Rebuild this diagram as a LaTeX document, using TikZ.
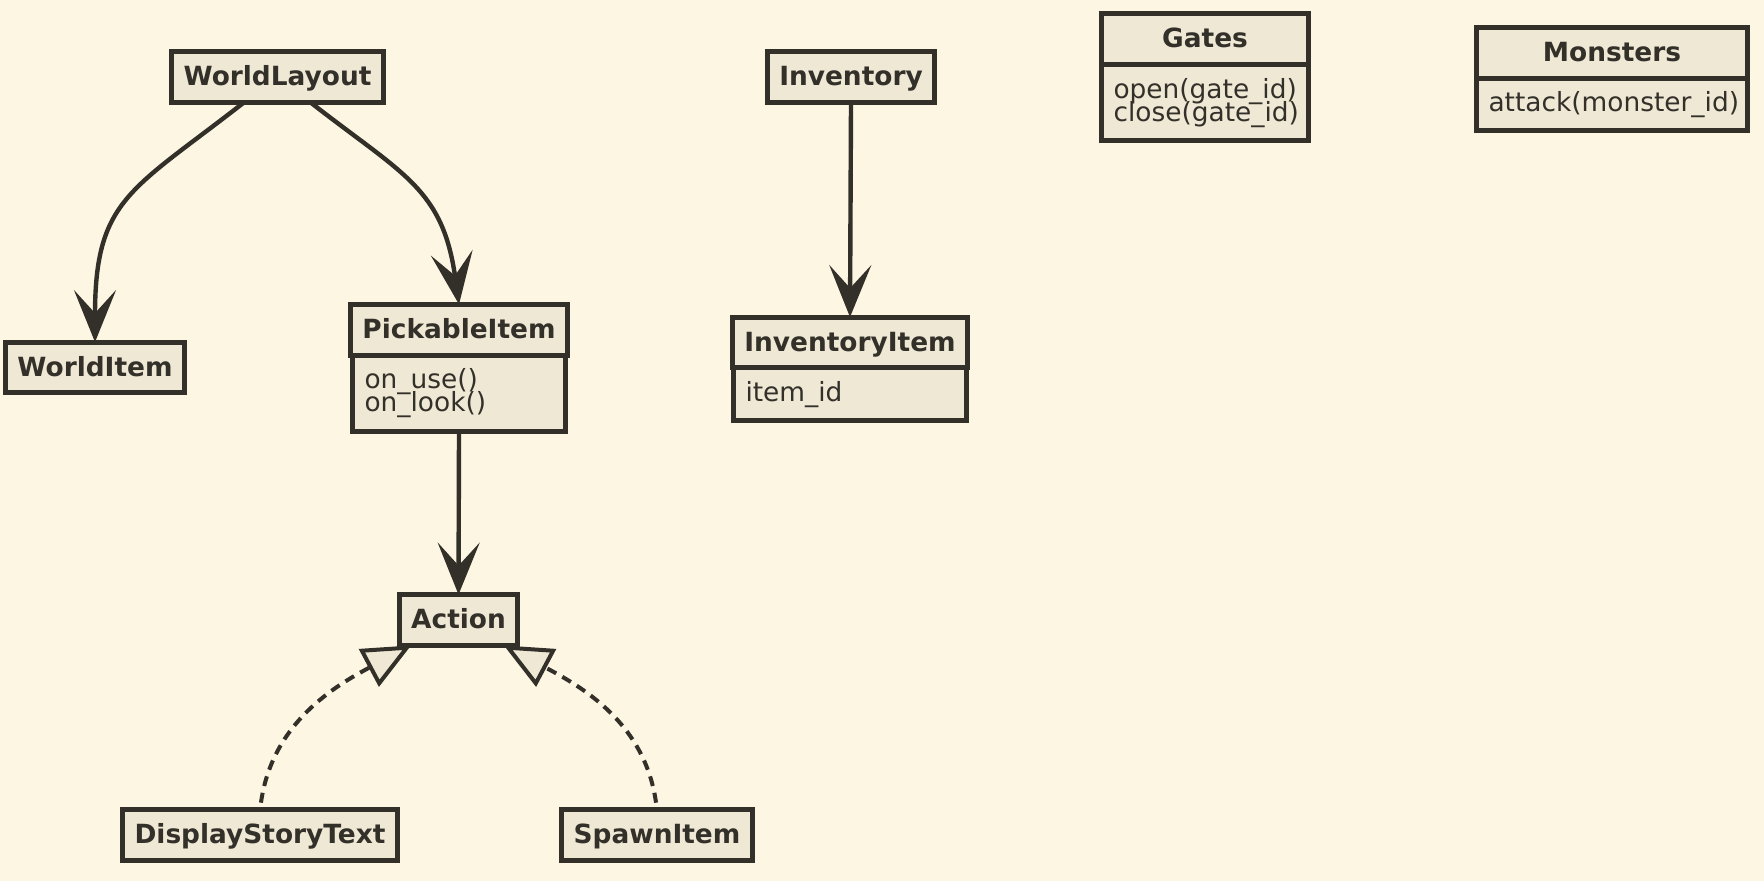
\documentclass[tikz,border=0pt]{standalone}
\usepackage{fontspec}
\setmainfont{DejaVu Sans}
\usetikzlibrary{arrows.meta,positioning}
\definecolor{parchment}{RGB}{253,246,227}
\definecolor{clsfill}{RGB}{238,232,213}
\definecolor{umlink}{RGB}{51,48,42}
\newcommand\methodfont{\fontsize{13.2pt}{11.4pt}\selectfont\lineskiplimit=-20pt\relax}
\tikzset{
  cls/.style={draw=umlink,fill=clsfill,line width=2.5pt,outer sep=0pt,
              font=\fontsize{13.2pt}{11.8pt}\selectfont\bfseries,text=umlink,
              inner xsep=6pt,minimum height=25.4pt,text height=10.4pt,text depth=1.8pt},
  mbody/.style={draw=umlink,fill=clsfill,line width=2.5pt,outer sep=0pt,
                font=\methodfont,text=umlink,
                align=left,inner xsep=6pt,inner ysep=3pt,text width=#1},
  assoc/.style={-{Stealth[length=26pt,width=21pt,inset=11.5pt]},line width=2.2pt,draw=umlink},
  realize/.style={-{Triangle[length=24pt,width=21pt,fill=clsfill]},line width=2pt,
                  draw=umlink,dash pattern=on 5pt off 3.5pt,shorten <=3.5pt},
}
\begin{document}
\begin{tikzpicture}[x=0.5pt,y=0.5pt]
        \fill[parchment] (0,0) rectangle (1764,-881);
        \useasboundingbox (0,0) rectangle (1764,-881);
        % classes
        \node[cls] (wl) at (277.5,-77) {WorldLayout};
        \node[cls] (wi) at (95,-367.5) {WorldItem};
        \node[cls,minimum width=106.5pt] (pick) at (459,-329.75) {PickableItem};
        \node[mbody=94.5pt,minimum height=38.1pt,below=0pt of pick]
              (pickb){on\_use()\\on\_look()};
        \node[cls] (act) at (458.5,-620) {Action};
        \node[cls] (dst) at (260,-835) {DisplayStoryText};
        \node[cls] (spawn) at (657,-835) {SpawnItem};
        \node[cls] (inv) at (851,-77) {Inventory};
        \node[cls,minimum width=116.5pt] (invi) at (850,-342.5) {InventoryItem};
        \node[mbody=104.5pt,minimum height=26.3pt,below=0pt of invi]
              (invib){item\_id};
        \node[cls,minimum width=103.5pt] (gates) at (1205,-39.25) {Gates};
        \node[mbody=91.5pt,minimum height=38.1pt,below=0pt of gates]
              (gatesb){open(gate\_id)\\close(gate\_id)};
        \node[cls,minimum width=135.5pt] (mon) at (1612,-53) {Monsters};
        \node[mbody=123.5pt,minimum height=26.3pt,below=0pt of mon]
              (monb){attack(monster\_id)};
        % links
        \draw[assoc]([xshift=-16.75pt]wl.south) to[out=-142,in=90,looseness=1.3] (wi.north);
        \draw[assoc]([xshift=16.5pt]wl.south) to[out=-38,in=98,looseness=1.2] (pick.north);
        \draw[assoc](pickb.south)--(act.north);
        \draw[assoc](inv.south)--(invi.north);
        \draw[realize](dst.north) to[out=82,in=-152] ([xshift=6pt]act.south west);
        \draw[realize](spawn.north) to[out=98,in=-28] ([xshift=-7pt]act.south east);
      \end{tikzpicture}
\end{document}
